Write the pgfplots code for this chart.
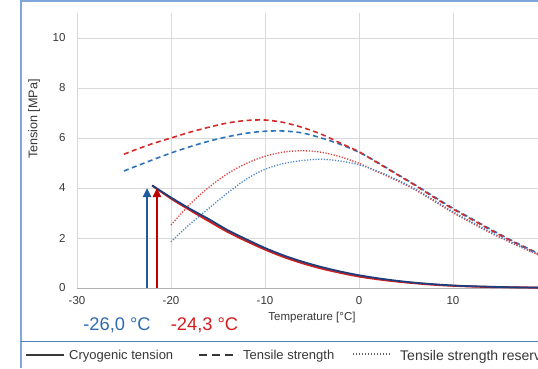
\documentclass[border=0pt]{standalone}
\usepackage{pgfplots}
\pgfplotsset{compat=1.18}
\usepackage{fontspec}
\setmainfont{Liberation Sans}
\usetikzlibrary{arrows.meta}
\definecolor{cryoblue}{HTML}{1F3D7A}
\definecolor{cryored}{HTML}{D01F1F}
\definecolor{dashblue}{HTML}{2E72B8}
\definecolor{dashred}{HTML}{D42A2A}
\definecolor{dotblue}{HTML}{4A86C8}
\definecolor{dotred}{HTML}{E03A3A}
\definecolor{arrowblue}{HTML}{1F5BA0}
\definecolor{arrowred}{HTML}{C00000}
\definecolor{frameblue}{HTML}{7FA7D9}
\definecolor{sepblue}{HTML}{4F7FC0}
\definecolor{txtblue}{HTML}{2F6CB3}
\definecolor{txtred}{HTML}{D21E1E}
\definecolor{ticktxt}{HTML}{383838}

\pgfplotstableread{
x y
-22 4.10
-20 3.62
-18 3.17
-16 2.76
-14 2.32
-12 1.95
-10 1.60
-8 1.30
-6 1.05
-4 0.84
-2 0.66
0 0.51
2 0.39
4 0.29
6 0.21
8 0.15
10 0.10
12 0.07
14 0.05
16 0.03
18 0.02
20 0.01
}\cryoB
\pgfplotstableread{
x y
-22 4.10
-20 3.58
-18 3.12
-16 2.68
-14 2.25
-12 1.88
-10 1.54
-8 1.24
-6 0.99
-4 0.78
-2 0.61
0 0.46
2 0.35
4 0.26
6 0.19
8 0.13
10 0.09
12 0.06
14 0.04
16 0.03
18 0.02
20 0.01
}\cryoR
\pgfplotstableread{
x y
-25 4.68
-24 4.83
-22 5.12
-20 5.40
-18 5.65
-16 5.87
-14 6.05
-12 6.19
-10 6.27
-8 6.28
-6 6.20
-4 6.00
-2 5.75
0 5.43
2 5.02
4 4.57
6 4.12
8 3.65
10 3.19
12 2.77
14 2.35
16 1.95
18 1.58
20 1.22
}\tsB
\pgfplotstableread{
x y
-25 5.35
-24 5.50
-22 5.77
-20 6.00
-18 6.23
-16 6.43
-14 6.60
-12 6.70
-10 6.72
-8 6.62
-6 6.42
-4 6.15
-2 5.80
0 5.45
2 5.00
4 4.55
6 4.10
8 3.62
10 3.16
12 2.74
14 2.32
16 1.92
18 1.55
20 1.20
}\tsR
\pgfplotstableread{
x y
-20 1.85
-18 2.55
-16 3.18
-14 3.80
-12 4.35
-10 4.75
-8 4.98
-6 5.10
-4 5.15
-2 5.08
0 4.93
2 4.67
4 4.34
6 3.96
8 3.51
10 3.05
12 2.64
14 2.24
16 1.87
18 1.53
20 1.20
}\resB
\pgfplotstableread{
x y
-20 2.52
-18 3.35
-16 4.02
-14 4.57
-12 4.98
-10 5.27
-8 5.44
-6 5.49
-4 5.43
-2 5.25
0 4.99
2 4.64
4 4.30
6 3.92
8 3.47
10 3.01
12 2.60
14 2.20
16 1.84
18 1.50
20 1.17
}\resR

\begin{document}
\begin{tikzpicture}
\useasboundingbox (0pt,0pt) rectangle (538pt,368pt);
\fill[white] (0pt,0pt) rectangle (538pt,368pt);
\begin{axis}[
  at={(77pt,80pt)}, anchor=south west,
  scale only axis, width=470pt, height=275pt,
  xmin=-30, xmax=20, ymin=0, ymax=11,
  xtick={-30,-20,...,10}, ytick={0,2,...,10},
  extra x ticks={20}, extra x tick labels={},
  axis line style={draw=none},
  major tick length=0pt,
  grid=major,
  major grid style={color=black!15, line width=0.8pt},
  /pgf/number format/assume math mode=true,
  ticklabel style={font=\fontsize{11.5}{13}\selectfont, text=ticktxt},
  xticklabel style={yshift=-4.5pt},
  yticklabel style={xshift=-8pt},
  clip=false,
]
\draw[black!30, line width=0.9pt] (axis cs:-30,0) -- (axis cs:20,0);
\addplot[dashblue, line width=1.6pt, dash pattern=on 5pt off 3.5pt, smooth] table {\tsB};
\addplot[dashred, line width=1.6pt, dash pattern=on 5pt off 3.5pt, smooth] table {\tsR};
\addplot[dotred, line width=1.3pt, dash pattern=on 1.2pt off 1.6pt, smooth] table {\resR};
\addplot[dotblue, line width=1.3pt, dash pattern=on 1.2pt off 1.6pt, smooth] table {\resB};
\addplot[cryored, line width=2pt, smooth] table {\cryoR};
\addplot[cryoblue, line width=1.8pt, smooth] table {\cryoB};
\addplot[arrowblue, line width=2.8pt, -{Triangle[width=8pt,length=9pt]}] coordinates {(-22.55,0) (-22.55,4.0)};
\addplot[arrowred, line width=2.8pt, -{Triangle[width=8pt,length=9pt]}] coordinates {(-21.5,0) (-21.5,4.0)};
\end{axis}
% frame
\draw[frameblue, line width=1.6pt] (21pt,0pt) -- (21pt,367pt) -- (540pt,367pt);
\draw[sepblue, line width=1pt] (21pt,26.5pt) -- (540pt,26.5pt);
% axis labels
\node[rotate=90, font=\fontsize{12.6}{14}\selectfont, text=ticktxt] at (34pt,249pt) {Tension [MPa]};
\node[font=\fontsize{11.5}{13}\selectfont, text=ticktxt] at (312pt,50pt) {Temperature [°C]};
% annotations
\node[font=\fontsize{18.3}{20}\selectfont, text=txtblue] at (117pt,43pt) {-26,0 °C};
\node[font=\fontsize{18.3}{20}\selectfont, text=txtred] at (204.5pt,43pt) {-24,3 °C};
% legend
\draw[ticktxt, line width=1.8pt] (26pt,13pt) -- (64pt,13pt);
\node[anchor=base west, font=\fontsize{13}{15}\selectfont, text=ticktxt, inner sep=0pt] at (69pt,8.5pt) {Cryogenic tension};
\draw[ticktxt, line width=1.8pt, dash pattern=on 8pt off 5pt] (199pt,13pt) -- (238pt,13pt);
\node[anchor=base west, font=\fontsize{13}{15}\selectfont, text=ticktxt, inner sep=0pt] at (243pt,8.5pt) {Tensile strength};
\draw[ticktxt!80, line width=1.1pt, dash pattern=on 1.1pt off 1.9pt] (353pt,14pt) -- (390pt,14pt);
\node[anchor=base west, font=\fontsize{14}{16}\selectfont, text=ticktxt, inner sep=0pt] at (400pt,7.8pt) {Tensile strength reserve};
\end{tikzpicture}
\end{document}
